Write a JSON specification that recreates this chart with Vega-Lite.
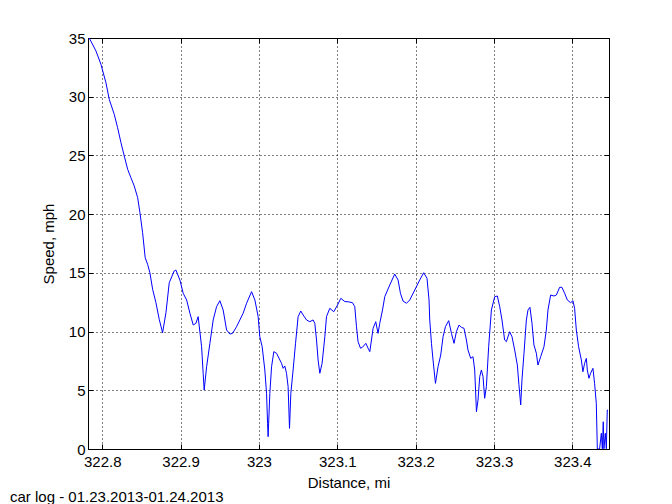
{
  "$schema": "https://vega.github.io/schema/vega-lite/v6.json",
  "width": 521,
  "height": 411,
  "autosize": {"type": "none"},
  "padding": {"left": 88, "top": 38, "right": 63, "bottom": 55},
  "background": "white",
  "config": {
    "view": {"stroke": "black", "strokeWidth": 1},
    "font": "Liberation Sans",
    "axis": {
      "labelFont": "Liberation Sans",
      "titleFont": "Liberation Sans",
      "labelFontSize": 15,
      "titleFontSize": 15,
      "titleFontWeight": "normal",
      "labelColor": "black",
      "titleColor": "black",
      "domainColor": "black",
      "tickColor": "black",
      "gridColor": "black",
      "gridOpacity": 1,
      "gridDash": [1, 3],
      "gridWidth": 1
    }
  },
  "title": {
    "text": "car log - 01.23.2013-01.24.2013",
    "orient": "bottom",
    "anchor": "start",
    "frame": "group",
    "dx": -78,
    "offset": 0,
    "font": "Liberation Sans",
    "fontSize": 15,
    "fontWeight": "normal",
    "color": "black"
  },
  "data": {
    "values": [
      {"d": 322.7834, "s": 35.0}, {"d": 322.792, "s": 33.89}, {"d": 322.7983, "s": 32.76}, {"d": 322.8047, "s": 31.19},
      {"d": 322.8089, "s": 29.78}, {"d": 322.8153, "s": 28.5}, {"d": 322.8196, "s": 27.36}, {"d": 322.8239, "s": 26.08},
      {"d": 322.8281, "s": 24.95}, {"d": 322.8324, "s": 23.82}, {"d": 322.8366, "s": 23.1}, {"d": 322.8408, "s": 22.4},
      {"d": 322.8452, "s": 21.4}, {"d": 322.8481, "s": 20.12}, {"d": 322.8515, "s": 18.42}, {"d": 322.8548, "s": 16.29},
      {"d": 322.8579, "s": 15.73}, {"d": 322.8608, "s": 15.01}, {"d": 322.8643, "s": 13.6}, {"d": 322.8685, "s": 12.46},
      {"d": 322.8727, "s": 11.05}, {"d": 322.877, "s": 9.9}, {"d": 322.8813, "s": 11.61}, {"d": 322.8855, "s": 14.16},
      {"d": 322.8918, "s": 15.16}, {"d": 322.894, "s": 15.24}, {"d": 322.8991, "s": 14.39}, {"d": 322.9033, "s": 13.26},
      {"d": 322.9077, "s": 12.69}, {"d": 322.9119, "s": 11.56}, {"d": 322.9161, "s": 10.56}, {"d": 322.9195, "s": 10.7},
      {"d": 322.9224, "s": 11.27}, {"d": 322.9268, "s": 8.71}, {"d": 322.9288, "s": 6.45}, {"d": 322.9301, "s": 5.02},
      {"d": 322.9332, "s": 7.01}, {"d": 322.9374, "s": 9.0}, {"d": 322.9416, "s": 10.99}, {"d": 322.9459, "s": 12.12},
      {"d": 322.9501, "s": 12.63}, {"d": 322.9543, "s": 11.84}, {"d": 322.9587, "s": 10.13}, {"d": 322.9629, "s": 9.79},
      {"d": 322.9663, "s": 9.85}, {"d": 322.9714, "s": 10.41}, {"d": 322.9798, "s": 11.56}, {"d": 322.9842, "s": 12.41},
      {"d": 322.9906, "s": 13.4}, {"d": 322.9948, "s": 12.69}, {"d": 322.999, "s": 11.27}, {"d": 323.0011, "s": 9.56},
      {"d": 323.0041, "s": 8.71}, {"d": 323.0075, "s": 6.73}, {"d": 323.0097, "s": 4.74}, {"d": 323.011, "s": 2.19},
      {"d": 323.0117, "s": 1.05}, {"d": 323.0139, "s": 4.74}, {"d": 323.0161, "s": 7.01}, {"d": 323.019, "s": 8.29},
      {"d": 323.0225, "s": 8.15}, {"d": 323.0267, "s": 7.58}, {"d": 323.0288, "s": 7.3}, {"d": 323.0309, "s": 6.87},
      {"d": 323.033, "s": 7.07}, {"d": 323.0352, "s": 6.45}, {"d": 323.0372, "s": 5.31}, {"d": 323.039, "s": 1.76},
      {"d": 323.0407, "s": 4.74}, {"d": 323.0436, "s": 6.73}, {"d": 323.0467, "s": 9.0}, {"d": 323.05, "s": 11.27},
      {"d": 323.0534, "s": 11.75}, {"d": 323.0564, "s": 11.41}, {"d": 323.0607, "s": 10.99}, {"d": 323.0649, "s": 10.84},
      {"d": 323.0691, "s": 10.99}, {"d": 323.0713, "s": 10.7}, {"d": 323.0735, "s": 9.28}, {"d": 323.0755, "s": 7.58},
      {"d": 323.0777, "s": 6.45}, {"d": 323.0806, "s": 7.3}, {"d": 323.0841, "s": 9.56}, {"d": 323.0862, "s": 11.27},
      {"d": 323.0904, "s": 11.98}, {"d": 323.0955, "s": 11.69}, {"d": 323.1003, "s": 12.26}, {"d": 323.1045, "s": 12.83},
      {"d": 323.1097, "s": 12.55}, {"d": 323.1138, "s": 12.54}, {"d": 323.1194, "s": 12.46}, {"d": 323.1223, "s": 12.12},
      {"d": 323.1245, "s": 10.41}, {"d": 323.1265, "s": 9.14}, {"d": 323.1296, "s": 8.58}, {"d": 323.1321, "s": 8.66},
      {"d": 323.1364, "s": 9.0}, {"d": 323.1393, "s": 8.58}, {"d": 323.1415, "s": 8.29}, {"d": 323.1436, "s": 9.28},
      {"d": 323.1457, "s": 10.28}, {"d": 323.1491, "s": 10.84}, {"d": 323.152, "s": 9.85}, {"d": 323.1542, "s": 10.7},
      {"d": 323.1577, "s": 11.84}, {"d": 323.1606, "s": 12.97}, {"d": 323.167, "s": 13.97}, {"d": 323.1733, "s": 14.9},
      {"d": 323.1776, "s": 14.39}, {"d": 323.1806, "s": 13.26}, {"d": 323.1839, "s": 12.6}, {"d": 323.1883, "s": 12.41},
      {"d": 323.1925, "s": 12.69}, {"d": 323.1989, "s": 13.54}, {"d": 323.2052, "s": 14.39}, {"d": 323.2103, "s": 15.01},
      {"d": 323.2145, "s": 14.54}, {"d": 323.2171, "s": 12.69}, {"d": 323.218, "s": 10.99}, {"d": 323.2202, "s": 9.0},
      {"d": 323.2222, "s": 7.58}, {"d": 323.2253, "s": 5.59}, {"d": 323.2286, "s": 7.01}, {"d": 323.232, "s": 8.0},
      {"d": 323.235, "s": 9.56}, {"d": 323.238, "s": 10.41}, {"d": 323.2422, "s": 10.93}, {"d": 323.2457, "s": 9.85},
      {"d": 323.249, "s": 9.0}, {"d": 323.252, "s": 9.99}, {"d": 323.2554, "s": 10.56}, {"d": 323.2584, "s": 10.36},
      {"d": 323.2617, "s": 10.28}, {"d": 323.2648, "s": 9.28}, {"d": 323.2668, "s": 8.43}, {"d": 323.2703, "s": 7.72},
      {"d": 323.2732, "s": 7.86}, {"d": 323.2754, "s": 6.73}, {"d": 323.2776, "s": 3.18}, {"d": 323.2796, "s": 4.17},
      {"d": 323.2818, "s": 6.16}, {"d": 323.2839, "s": 6.73}, {"d": 323.286, "s": 6.16}, {"d": 323.2881, "s": 4.32},
      {"d": 323.2903, "s": 5.31}, {"d": 323.2932, "s": 8.71}, {"d": 323.2967, "s": 11.84}, {"d": 323.3009, "s": 12.97},
      {"d": 323.3043, "s": 13.03}, {"d": 323.3073, "s": 12.12}, {"d": 323.3102, "s": 10.99}, {"d": 323.3136, "s": 9.28},
      {"d": 323.3158, "s": 9.14}, {"d": 323.32, "s": 9.99}, {"d": 323.323, "s": 9.56}, {"d": 323.3264, "s": 8.43},
      {"d": 323.3298, "s": 7.15}, {"d": 323.3318, "s": 5.5}, {"d": 323.3341, "s": 3.75}, {"d": 323.3357, "s": 5.88},
      {"d": 323.3383, "s": 8.15}, {"d": 323.3413, "s": 10.99}, {"d": 323.3434, "s": 11.84}, {"d": 323.3459, "s": 12.07},
      {"d": 323.3485, "s": 10.7}, {"d": 323.351, "s": 8.86}, {"d": 323.3541, "s": 8.15}, {"d": 323.3561, "s": 7.15},
      {"d": 323.3596, "s": 7.86}, {"d": 323.3638, "s": 8.71}, {"d": 323.3668, "s": 10.13}, {"d": 323.3689, "s": 11.84},
      {"d": 323.3723, "s": 13.11}, {"d": 323.3765, "s": 13.03}, {"d": 323.3796, "s": 13.11}, {"d": 323.3838, "s": 13.77},
      {"d": 323.3867, "s": 13.77}, {"d": 323.3902, "s": 13.26}, {"d": 323.3936, "s": 12.69}, {"d": 323.3978, "s": 12.46},
      {"d": 323.4008, "s": 12.63}, {"d": 323.4029, "s": 11.98}, {"d": 323.4051, "s": 10.13}, {"d": 323.408, "s": 8.71},
      {"d": 323.4115, "s": 7.58}, {"d": 323.4135, "s": 6.58}, {"d": 323.4157, "s": 7.3}, {"d": 323.4179, "s": 7.72},
      {"d": 323.4191, "s": 6.73}, {"d": 323.4212, "s": 6.02}, {"d": 323.4233, "s": 6.45}, {"d": 323.4263, "s": 6.87},
      {"d": 323.4284, "s": 5.59}, {"d": 323.4306, "s": 3.89}, {"d": 323.4319, "s": 0.0}, {"d": 323.4348, "s": 0.0},
      {"d": 323.437, "s": 1.34}, {"d": 323.4383, "s": 0.02}, {"d": 323.4395, "s": 2.32}, {"d": 323.4403, "s": 0.02},
      {"d": 323.4421, "s": 1.34}, {"d": 323.4434, "s": 0.02}, {"d": 323.4446, "s": 3.32}, {"d": 323.4456, "s": 3.3}
    ]
  },
  "layer": [
    {
      "mark": {"type": "line", "color": "#0000ff", "strokeWidth": 1, "clip": true},
      "encoding": {
        "x": {
          "field": "d", "type": "quantitative",
          "scale": {"domain": [322.7818, 323.4468], "nice": false, "zero": false},
          "axis": {
            "title": "Distance, mi",
            "values": [322.8, 322.9, 323.0, 323.1, 323.2, 323.3, 323.4],
            "labelExpr": "format(datum.value, '.4~f')",
            "tickSize": -5,
            "labelPadding": 10,
            "titlePadding": 6,
            "grid": true,
            "domain": false
          }
        },
        "y": {
          "field": "s", "type": "quantitative",
          "scale": {"domain": [0, 35], "nice": false},
          "axis": {
            "title": "Speed, mph",
            "values": [0, 5, 10, 15, 20, 25, 30, 35],
            "tickSize": -5,
            "labelPadding": 8,
            "titlePadding": 12,
            "grid": true,
            "domain": false
          }
        }
      }
    },
    {
      "mark": {"type": "line", "opacity": 0, "clip": true},
      "encoding": {
        "x": {
          "field": "d", "type": "quantitative",
          "axis": {
            "orient": "top", "title": null, "labels": false, "grid": false, "domain": false,
            "values": [322.8, 322.9, 323.0, 323.1, 323.2, 323.3, 323.4],
            "tickSize": -5
          }
        },
        "y": {
          "field": "s", "type": "quantitative",
          "axis": {
            "orient": "right", "title": null, "labels": false, "grid": false, "domain": false,
            "values": [0, 5, 10, 15, 20, 25, 30, 35],
            "tickSize": -5
          }
        }
      }
    }
  ],
  "resolve": {"axis": {"x": "independent", "y": "independent"}}
}
